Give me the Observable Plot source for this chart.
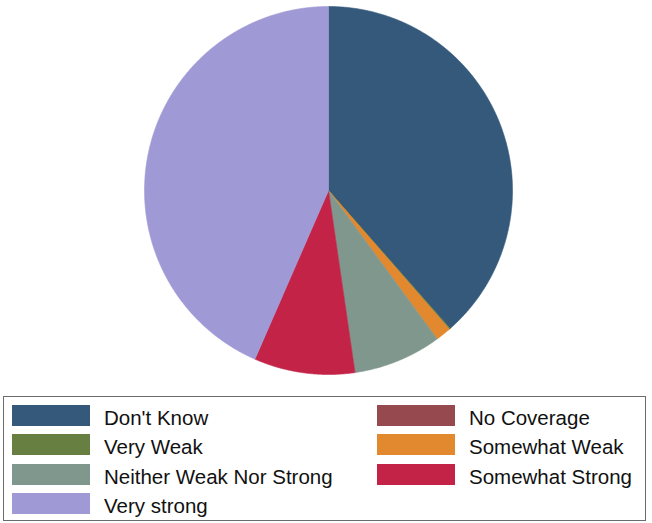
<!DOCTYPE html>
<html>
<head>
<meta charset="utf-8">
<script src="https://cdn.jsdelivr.net/npm/d3@7"></script>
<script src="https://cdn.jsdelivr.net/npm/@observablehq/plot@0.6"></script>
<style>
  html, body { margin: 0; padding: 0; background: #fff; }
  body { width: 652px; font-family: "Liberation Sans", Arial, Helvetica, sans-serif; }
  #chart svg { display: block; }
  #legend {
    position: absolute; left: 3px; top: 396px; width: 643px; height: 125px;
    border: 1px solid #6b6b6b; box-sizing: border-box; background: #fff;
  }
  .item { position: absolute; display: flex; align-items: center; height: 21px; }
  .sw { width: 78px; height: 21px; margin-right: 14px; flex: none; }
  .lb { font-size: 20.5px; color: #111; line-height: 21px; position: relative; top: 2px; white-space: nowrap; }
</style>
</head>
<body>
<div id="chart"></div>
<div id="legend"></div>
<script>
const categories = ["Don't Know", "No Coverage", "Very Weak", "Somewhat Weak", "Neither Weak Nor Strong", "Somewhat Strong", "Very strong"];
const shares = [38.5, 0, 0.1, 1.35, 7.75, 8.85, 43.45];
const colors = ["#34597b", "#964a50", "#687f42", "#e2882e", "#7f978d", "#c42348", "#9f9ad5"];

const data = categories.map((c, i) => ({cat: c, share: shares[i]}));
const arcs = d3.pie().sort(null).value(d => d.share).startAngle(0).endAngle(2 * Math.PI)(data);

const pts = [];
for (const a of arcs) {
  if (a.endAngle - a.startAngle <= 0) continue;
  const n = Math.max(2, Math.ceil((a.endAngle - a.startAngle) / 0.005) + 1);
  pts.push({cat: a.data.cat, x: 0, y: 0});
  for (let k = 0; k < n; k++) {
    const t = a.startAngle + (a.endAngle - a.startAngle) * k / (n - 1);
    pts.push({cat: a.data.cat, x: Math.sin(t), y: Math.cos(t)});
  }
  pts.push({cat: a.data.cat, x: 0, y: 0});
}

const W = 652, H = 385, R = 184, cx = 328, cy = 190;
const chart = Plot.plot({
  width: W, height: H, margin: 0,
  x: {axis: null, domain: [-cx / R, (W - cx) / R]},
  y: {axis: null, domain: [-(H - cy) / R, cy / R]},
  color: {domain: categories, range: colors},
  marks: [
    Plot.line(pts, {x: "x", y: "y", z: "cat", fill: "cat", stroke: "cat", strokeWidth: 0.6, curve: "linear"})
  ]
});
document.getElementById("chart").appendChild(chart);

const legend = document.getElementById("legend");
categories.forEach((c, i) => {
  const row = Math.floor(i / 2), col = i % 2;
  const it = document.createElement("div");
  it.className = "item";
  it.style.left = (col === 0 ? 8 : 373) + "px";
  it.style.top = (8 + row * 29.3) + "px";
  const sw = document.createElement("div");
  sw.className = "sw";
  sw.style.background = colors[i];
  const lb = document.createElement("span");
  lb.className = "lb";
  lb.textContent = c;
  it.appendChild(sw); it.appendChild(lb);
  legend.appendChild(it);
});
</script>
</body>
</html>
